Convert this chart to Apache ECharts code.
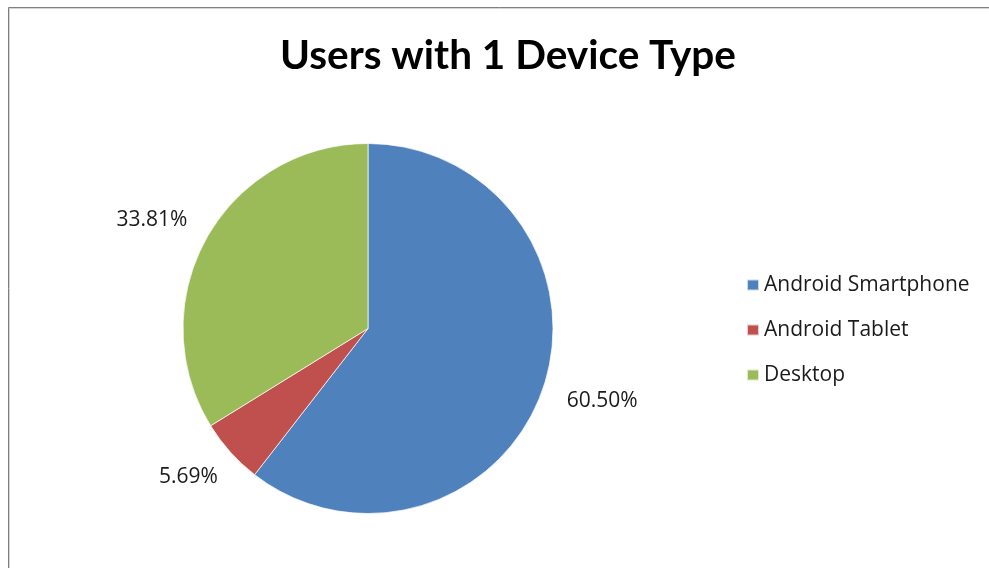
<!DOCTYPE html>
<html>
<head>
<meta charset="utf-8">
<script src="https://cdn.jsdelivr.net/npm/echarts@6/dist/echarts.min.js"></script>
<style>
  html, body { margin: 0; padding: 0; background: #fff; }
  #chart { width: 989px; height: 568px; }
</style>
</head>
<body>
<div id="chart"></div>
<script>
// Device types and their share of single-device users (percent)
const categories = ['Android Smartphone', 'Android Tablet', 'Desktop'];
const shares = [60.50, 5.69, 33.81];
const colors = ['#4F81BD', '#C0504D', '#9BBB59'];
const titleText = 'Users with 1 Device Type';

const pieData = categories.map((name, i) => ({ name, value: shares[i] }));

const PIE_CENTER = [368, 328.5];
const PIE_RADIUS = 185;
// distance from the centre at which the near side of each percentage label sits
const LABEL_ANCHOR_R = 212;

const chart = echarts.init(document.getElementById('chart'), null, { renderer: 'canvas' });

const labelFont = '"Open Sans", "DejaVu Sans", sans-serif';

chart.setOption({
  animation: false,
  backgroundColor: '#fff',
  color: colors,
  title: {
    text: titleText,
    left: 503,
    textAlign: 'center',
    top: 30,
    textStyle: {
      fontFamily: 'Lato, "Open Sans", sans-serif',
      fontWeight: 'bold',
      fontSize: 40.5,
      color: '#000'
    }
  },
  legend: {
    orient: 'vertical',
    left: 741,
    top: 269,
    icon: 'rect',
    itemWidth: 12,
    itemHeight: 11,
    itemGap: 23,
    data: categories,
    textStyle: {
      fontFamily: labelFont,
      fontSize: 21,
      lineHeight: 22,
      color: '#1a1a1a'
    }
  },
  graphic: [
    {
      type: 'rect',
      silent: true,
      z: 100,
      shape: { x: 8.5, y: 7.5, width: 1200, height: 800 },
      style: { fill: 'none', stroke: '#808080', lineWidth: 1 }
    },
    {
      type: 'rect',
      silent: true,
      z: 100,
      shape: { x: 9.5, y: 8.5, width: 1200, height: 800 },
      style: { fill: 'none', stroke: '#d4d4d4', lineWidth: 1 }
    }
  ],
  series: [
    {
      name: 'Users',
      type: 'pie',
      center: PIE_CENTER,
      radius: [0, PIE_RADIUS],
      startAngle: 90,
      clockwise: true,
      silent: true,
      data: pieData,
      itemStyle: { borderColor: 'rgba(255,255,255,0.7)', borderWidth: 1 },
      label: { show: false },
      labelLine: { show: false },
      emphasis: { disabled: true }
    },
    {
      // transparent ring that carries the percentage labels outside the pie
      name: 'Labels',
      type: 'pie',
      center: PIE_CENTER,
      radius: [PIE_RADIUS, 290],
      startAngle: 90,
      clockwise: true,
      silent: true,
      data: pieData,
      itemStyle: { color: 'rgba(0,0,0,0)' },
      label: {
        show: true,
        position: 'inside',
        formatter: (p) => p.value.toFixed(2) + '%',
        fontFamily: labelFont,
        fontSize: 21,
        color: '#1a1a1a'
      },
      // push each label out along its slice's mid-angle so its inner side rests
      // at LABEL_ANCHOR_R, in the manner of "outside end" data labels
      labelLayout: (params) => {
        const r = params.labelRect;
        const lx = r.x + r.width / 2 - PIE_CENTER[0];
        const ly = r.y + r.height / 2 - PIE_CENTER[1];
        const len = Math.hypot(lx, ly) || 1;
        const dx = lx / len, dy = ly / len;
        return {
          x: PIE_CENTER[0] + LABEL_ANCHOR_R * dx + dx * r.width / 2,
          y: PIE_CENTER[1] + LABEL_ANCHOR_R * dy + dy * r.height / 2,
          align: 'center',
          verticalAlign: 'middle'
        };
      },
      labelLine: { show: false },
      emphasis: { disabled: true }
    }
  ]
});
</script>
</body>
</html>
